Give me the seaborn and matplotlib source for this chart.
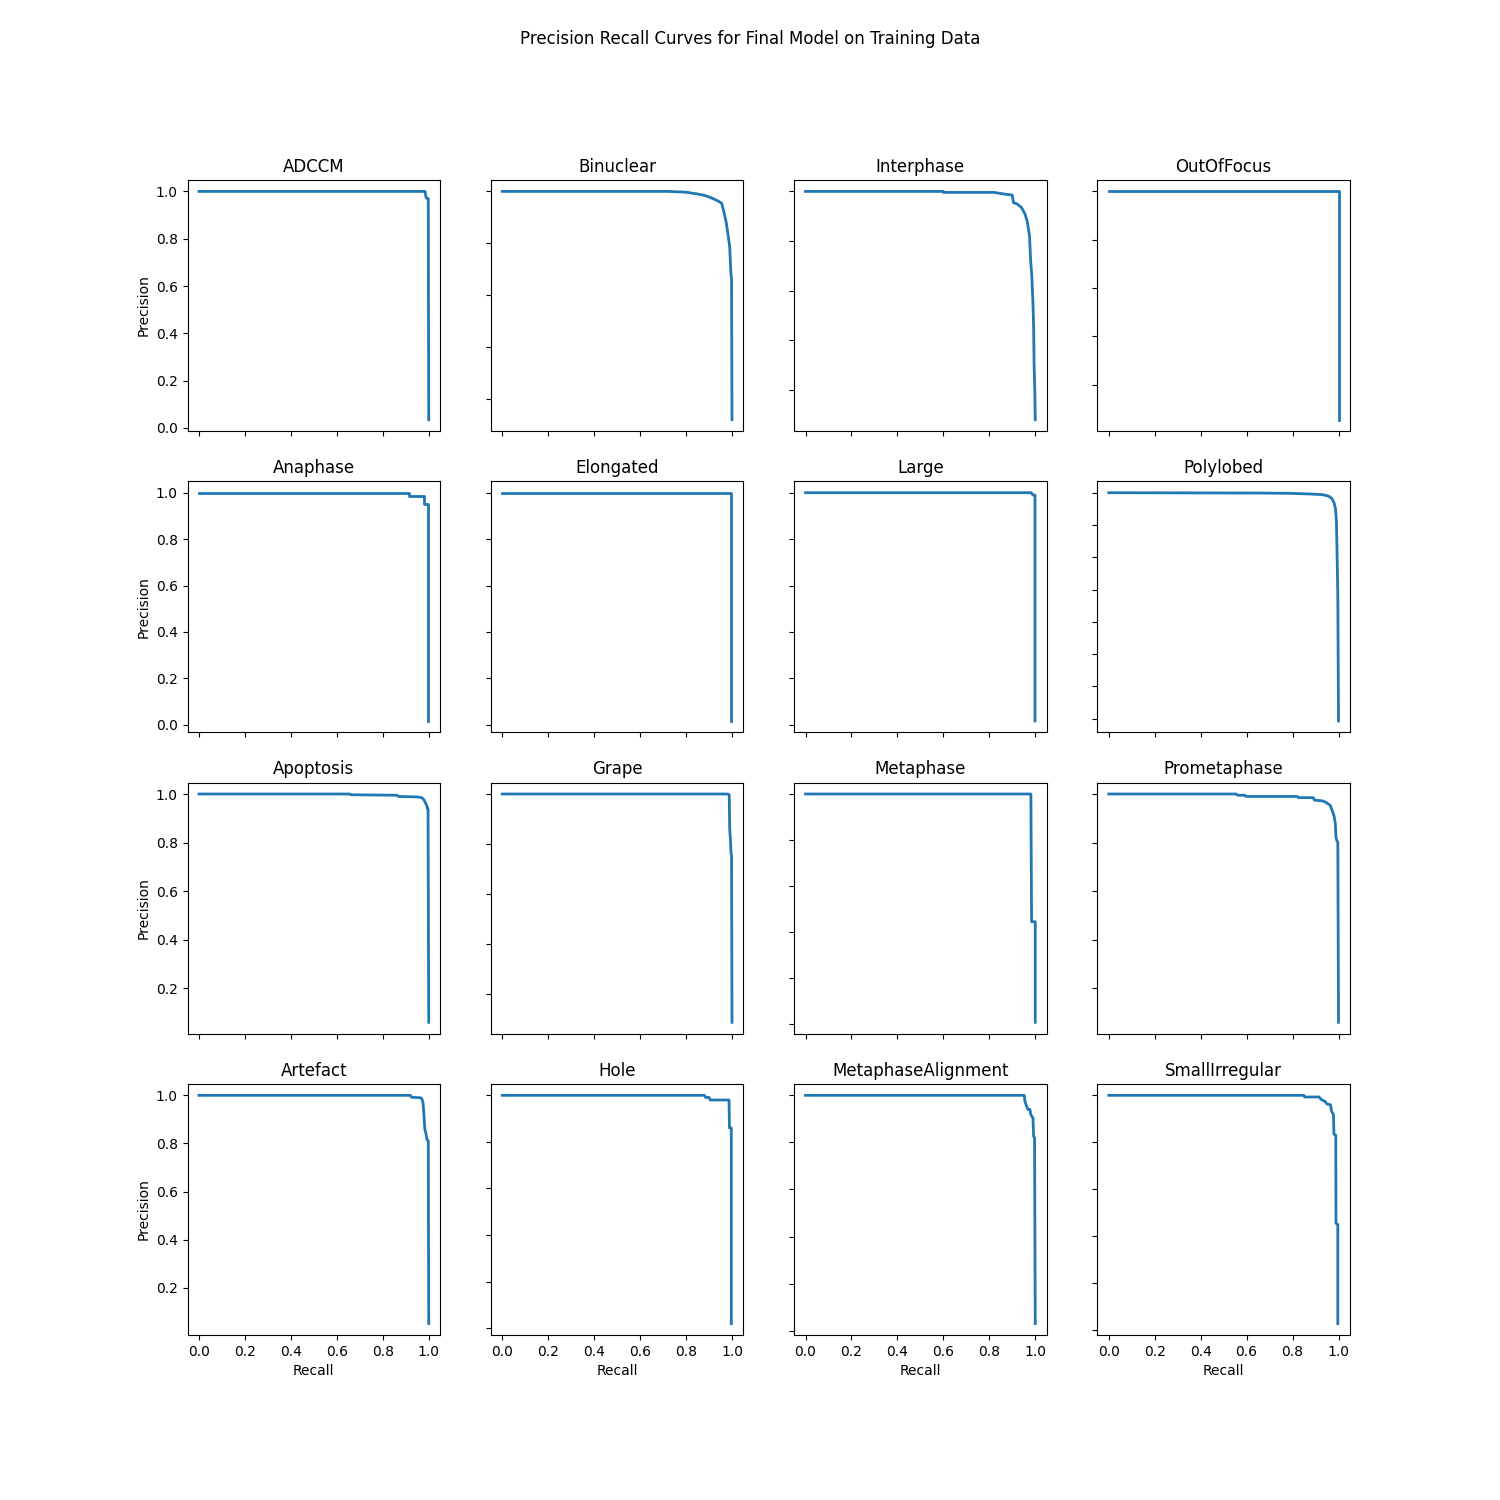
import matplotlib
matplotlib.use("Agg")
import matplotlib.pyplot as plt
import seaborn as sns

# ---- data ----
adccm_recall = [0.0, 0.984, 0.988, 0.993, 0.998, 1.0]
adccm_precision = [1.0, 1.0, 0.975, 0.97, 0.97, 0.035]

binuclear_recall = [0.0, 0.72, 0.80, 0.85, 0.88, 0.91, 0.935, 0.955, 0.965, 0.975, 0.985, 0.99, 0.995, 0.998, 1.0]
binuclear_precision = [1.0, 1.0, 0.997, 0.99, 0.985, 0.975, 0.965, 0.955, 0.92, 0.88, 0.82, 0.785, 0.69, 0.66, 0.12]

interphase_recall = [0.0, 0.60, 0.60, 0.82, 0.86, 0.90, 0.905, 0.92, 0.94, 0.955, 0.965, 0.975, 0.98, 0.985, 0.99, 0.993, 0.995, 0.998, 1.0]
interphase_precision = [1.0, 1.0, 0.996, 0.996, 0.99, 0.985, 0.955, 0.95, 0.935, 0.91, 0.88, 0.82, 0.72, 0.66, 0.55, 0.45, 0.3, 0.2, 0.08]

outoffocus_recall = [0.0, 1.0, 1.0]
outoffocus_precision = [1.0, 1.0, 0.055]

anaphase_recall = [0.0, 0.915, 0.915, 0.98, 0.98, 0.998, 0.998]
anaphase_precision = [1.0, 1.0, 0.988, 0.988, 0.95, 0.95, 0.016]

elongated_recall = [0.0, 0.997, 0.997]
elongated_precision = [1.0, 1.0, 0.016]

large_recall = [0.0, 0.983, 0.99, 0.999, 0.999]
large_precision = [1.0, 1.0, 0.99, 0.99, 0.016]

polylobed_recall = [0.0, 0.66, 0.79, 0.88, 0.93, 0.955, 0.97, 0.98, 0.987, 0.991, 0.994, 0.997, 1.0]
polylobed_precision = [1.0, 0.999, 0.998, 0.996, 0.994, 0.99, 0.983, 0.97, 0.95, 0.91, 0.8, 0.68, 0.293]

apoptosis_recall = [0.0, 0.655, 0.66, 0.86, 0.87, 0.95, 0.97, 0.98, 0.99, 0.995, 0.997, 1.0]
apoptosis_precision = [1.0, 1.0, 0.997, 0.995, 0.99, 0.988, 0.985, 0.975, 0.955, 0.94, 0.94, 0.06]

grape_recall = [0.0, 0.982, 0.988, 0.99, 0.993, 0.996, 0.998, 1.0]
grape_precision = [1.0, 1.0, 0.997, 0.86, 0.82, 0.76, 0.755, 0.085]

metaphase_recall = [0.0, 0.981, 0.984, 1.0, 1.0]
metaphase_precision = [1.0, 1.0, 0.445, 0.445, 0.008]

prometaphase_recall = [0.0, 0.555, 0.56, 0.59, 0.60, 0.82, 0.825, 0.89, 0.895, 0.93, 0.95, 0.965, 0.973, 0.981, 0.986, 0.989, 0.994, 0.997, 1.0]
prometaphase_precision = [1.0, 1.0, 0.995, 0.995, 0.99, 0.99, 0.985, 0.985, 0.975, 0.972, 0.963, 0.952, 0.93, 0.908, 0.88, 0.82, 0.806, 0.8, 0.06]

artefact_recall = [0.0, 0.92, 0.925, 0.965, 0.97, 0.975, 0.978, 0.983, 0.988, 0.993, 0.998, 1.0]
artefact_precision = [1.0, 1.0, 0.992, 0.99, 0.985, 0.97, 0.935, 0.86, 0.84, 0.815, 0.81, 0.051]

hole_recall = [0.0, 0.88, 0.885, 0.90, 0.905, 0.987, 0.989, 0.997, 0.997]
hole_precision = [1.0, 1.0, 0.991, 0.991, 0.98, 0.98, 0.86, 0.86, 0.02]

metaphasealignment_recall = [0.0, 0.952, 0.955, 0.96, 0.968, 0.977, 0.98, 0.985, 0.99, 0.993, 0.997, 1.0]
metaphasealignment_precision = [1.0, 1.0, 0.975, 0.96, 0.94, 0.94, 0.92, 0.91, 0.905, 0.825, 0.82, 0.03]

smallirregular_recall = [0.0, 0.849, 0.852, 0.915, 0.925, 0.94, 0.95, 0.965, 0.97, 0.978, 0.98, 0.988, 0.989, 0.997, 0.997]
smallirregular_precision = [1.0, 1.0, 0.993, 0.993, 0.982, 0.975, 0.963, 0.96, 0.932, 0.918, 0.835, 0.83, 0.455, 0.45, 0.028]

class_names = [
    "ADCCM", "Binuclear", "Interphase", "OutOfFocus",
    "Anaphase", "Elongated", "Large", "Polylobed",
    "Apoptosis", "Grape", "Metaphase", "Prometaphase",
    "Artefact", "Hole", "MetaphaseAlignment", "SmallIrregular",
]
recalls = [
    adccm_recall, binuclear_recall, interphase_recall, outoffocus_recall,
    anaphase_recall, elongated_recall, large_recall, polylobed_recall,
    apoptosis_recall, grape_recall, metaphase_recall, prometaphase_recall,
    artefact_recall, hole_recall, metaphasealignment_recall, smallirregular_recall,
]
precisions = [
    adccm_precision, binuclear_precision, interphase_precision, outoffocus_precision,
    anaphase_precision, elongated_precision, large_precision, polylobed_precision,
    apoptosis_precision, grape_precision, metaphase_precision, prometaphase_precision,
    artefact_precision, hole_precision, metaphasealignment_precision, smallirregular_precision,
]

fig, axs = plt.subplots(4, 4, figsize=(15, 15), dpi=100, sharex=True)
fig.suptitle("Precision Recall Curves for Final Model on Training Data")

for ax, name, r, p in zip(axs.flat, class_names, recalls, precisions):
    sns.lineplot(x=r, y=p, ax=ax, sort=False, estimator=None,
                 color="#1f77b4", linewidth=2)
    ax.set_title(name, fontsize=12)
    ax.set_xlabel("Recall")
    ax.set_ylabel("Precision")
    ax.label_outer(remove_inner_ticks=False)

fig.savefig("out.png", dpi=100)
